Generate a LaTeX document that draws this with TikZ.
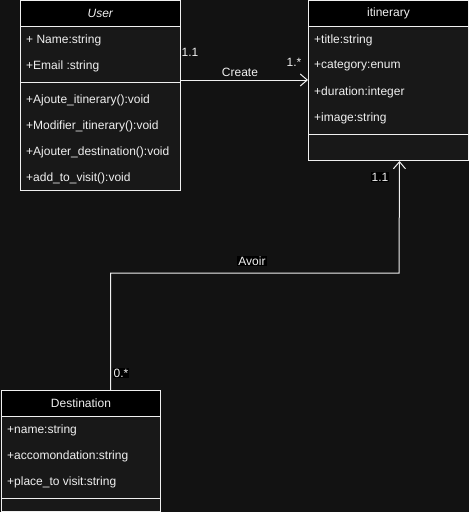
\documentclass[tikz,border=0pt]{standalone}
\usepackage{fontspec}
\setmainfont{Liberation Sans}
\usetikzlibrary{arrows.meta}
\definecolor{bg}{RGB}{18,18,18}
\definecolor{body}{RGB}{24,24,24}
\definecolor{txt}{RGB}{240,240,240}
\definecolor{ln}{RGB}{240,240,240}
\tikzset{
 box/.style={draw=ln, line width=1pt, fill=body, anchor=north west, inner sep=0pt},
 hdr/.style={draw=ln, line width=1pt, fill=black, anchor=north west, inner sep=0pt, minimum height=26pt, text=txt, font=\fontsize{12}{14}\selectfont},
 item/.style={anchor=west, text=txt, inner sep=0pt, font=\fontsize{12}{14}\selectfont},
 lbl/.style={text=txt, inner sep=1pt, font=\fontsize{12}{14}\selectfont},
 lblbg/.style={lbl, fill=black},
 sep/.style={draw=ln, line width=1pt},
 conn/.style={draw=ln, line width=1pt, -{Straight Barb[length=7pt,width=12pt]}},
}
\begin{document}
\begin{tikzpicture}[x=1pt,y=-1pt]
\useasboundingbox[fill=bg] (0,0) rectangle (469,512);
% User
\node[box, minimum width=160pt, minimum height=190pt] (user) at (20,0) {};
\node[hdr, minimum width=160pt] (userh) at (20,0) {\textit{User}};
\draw[sep] ([yshift=-82pt]user.north west) -- ([yshift=-82pt]user.north east);
\node[item] (u1) at (26,40) {+ Name:string};
\node[item] (u2) at (26,66) {+Email :string};
\node[item] (u3) at (26,100) {+Ajoute\_itinerary():void};
\node[item] (u4) at (26,126) {+Modifier\_itinerary():void};
\node[item] (u5) at (26,152) {+Ajouter\_destination():void};
\node[item] (u6) at (26,178) {+add\_to\_visit():void};
% itinerary
\node[box, minimum width=160pt, minimum height=160pt] (itin) at (308,0) {};
\node[hdr, minimum width=160pt] (itinh) at (308,0) {itinerary};
\draw[sep] ([yshift=-134pt]itin.north west) -- ([yshift=-134pt]itin.north east);
\node[item] (i1) at (314,40) {+title:string};
\node[item] (i2) at (314,66) {+category:enum};
\node[item] (i3) at (314,92) {+duration:integer};
\node[item] (i4) at (314,118) {+image:string};
% Destination
\node[box, minimum width=159pt, minimum height=121pt] (dest) at (1,390) {};
\node[hdr, minimum width=159pt] (desth) at (1,390) {Destination};
\draw[sep] ([yshift=-108pt]dest.north west) -- ([yshift=-108pt]dest.north east);
\node[item] (d1) at (7,430) {+name:string};
\node[item] (d2) at (7,456) {+accomondation:string};
\node[item] (d3) at (7,482) {+place\_to visit:string};
% Create
\draw[conn] ([yshift=-80pt]user.north east) -- ([yshift=-80pt]itin.north west);
\node[lbl] (create) at (240,72) {Create};
\node[lbl] (m1) at (190,52) {1.1};
\node[lbl] (m2) at (294,62) {1.*};
% Avoir
\coordinate (bend) at (399,273);
\draw[conn] ([xshift=109.5pt]dest.north west) |- (bend) -- ([xshift=11pt]itin.south);
\node[lblbg] (avoir) at (252,261) {Avoir};
\node[lblbg] (m3) at (380,177) {1.1};
\node[lblbg] (m4) at (121,373) {0.*};
\end{tikzpicture}
\end{document}
